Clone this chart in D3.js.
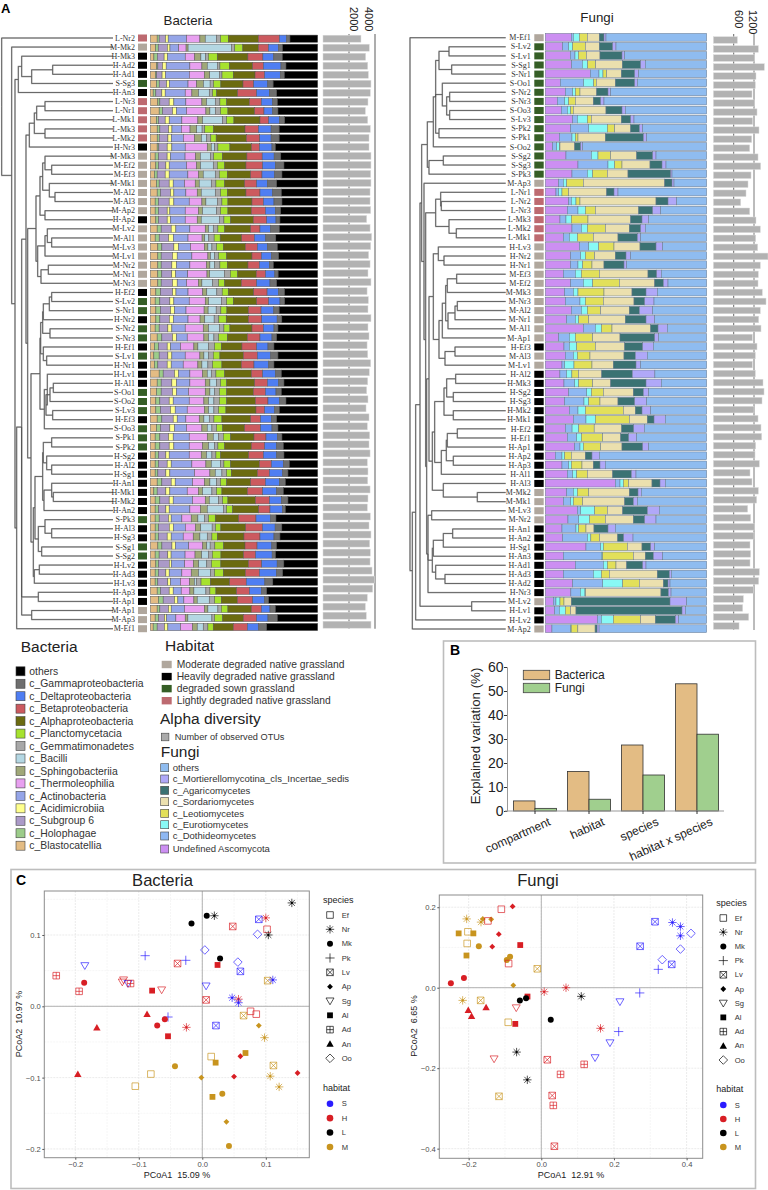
<!DOCTYPE html>
<html><head><meta charset="utf-8">
<script src="https://cdn.jsdelivr.net/npm/d3@7/dist/d3.min.js"></script>
<style>
html,body{margin:0;padding:0;background:#fff}
svg{display:block;font-family:"Liberation Sans",Arial,sans-serif}
</style></head><body><div id="chart"></div>
<script>
// ---------- DATA ----------
const bacteriaClasses = ["c_Blastocatellia","c_Holophagae","c_Subgroup 6","c_Acidimicrobiia","c_Actinobacteria","c_Thermoleophilia","c_Sphingobacteriia","c_Bacilli","c_Gemmatimonadetes","c_Planctomycetacia","c_Alphaproteobacteria","c_Betaproteobacteria","c_Deltaproteobacteria","c_Gammaproteobacteria","others"];
const bacteriaColors = ["#e3bc84","#9ccc8a","#ab9ac8","#ffff8c","#95a5e8","#e8a0f0","#a0a878","#b4d7e3","#a8a8a8","#a6e22e","#6b6b10","#cc5a5f","#4f7ef2","#6e6e6e","#000000"];
const fungiClasses = ["Undefined Ascomycota","c_Dothideomycetes","c_Eurotiomycetes","c_Leotiomycetes","c_Sordariomycetes","c_Agaricomycetes","c_Mortierellomycotina_cls_Incertae_sedis","others"];
const fungiColors = ["#cc8ff2","#8fb8f2","#88f9f5","#e2e05a","#ebe0ae","#3b7273","#b0a8f8","#8fbcf0"];
const habitatNames = {M:"Moderate degraded native grassland",H:"Heavily degraded native grassland",S:"degraded sown grassland",L:"Lightly degraded native grassland"};
const habitatColors = {M:"#b0a79d",H:"#000000",S:"#355e26",L:"#bd6a70"};
const fungiHabitatExceptions = ["H-Lv3","H-Nr2","H-Nr1"];

const bacteriaLabels = ["L-Nr2","M-Mk2","H-Mk3","H-Ad2","H-Ad1","S-Sg3","H-An3","L-Nr3","L-Nr1","L-Mk1","L-Mk3","L-Mk2","H-Nr3","M-Mk3","M-Ef2","M-Ef3","M-Mk1","M-Al2","M-Al3","M-Ap2","H-Ap2","M-Lv2","M-Al1","M-Lv3","M-Lv1","M-Nr2","M-Nr1","M-Nr3","H-Ef2","S-Lv2","S-Nr1","H-Nr2","S-Nr2","S-Nr3","H-Ef1","S-Lv1","H-Nr1","H-Lv1","H-Al1","S-Oo1","S-Oo2","S-Lv3","H-Ef3","S-Oo3","S-Pk1","S-Pk2","H-Sg2","H-Al2","H-Sg1","H-An1","H-Mk1","H-Mk2","H-An2","S-Pk3","H-Al3","H-Sg3","S-Sg1","S-Sg2","H-Lv2","H-Ad3","H-Lv3","H-Ap3","H-Ap1","M-Ap1","M-Ap3","M-Ef1"];
const bacteriaValues = [
[20,6,19,8,55,40,16,34,12,23,90,63,22,10,83],
[15,8,27,8,26,22,6,129,10,24,46,30,30,12,105],
[10,10,20,10,52,28,18,14,8,26,90,44,32,25,104],
[18,4,14,11,71,36,16,30,8,28,70,32,53,15,95],
[14,4,16,10,70,44,16,28,8,33,64,28,46,12,98],
[18,8,22,8,56,26,20,20,10,22,66,32,42,16,133],
[8,8,18,10,60,20,20,32,10,12,63,57,38,22,123],
[22,6,28,14,36,48,14,26,14,20,68,36,34,14,121],
[26,10,30,12,30,58,12,16,16,22,80,28,26,16,119],
[18,6,20,12,38,48,14,60,12,22,78,26,32,16,99],
[20,8,26,10,28,26,20,16,8,26,94,40,38,24,115],
[20,6,26,10,36,34,20,16,12,16,90,40,34,24,115],
[20,5,25,14,40,66,12,10,10,36,64,24,38,10,127],
[14,10,26,10,44,32,14,30,10,26,74,46,36,20,111],
[16,8,22,10,52,30,12,38,12,22,64,50,38,26,101],
[12,8,24,12,56,32,14,36,12,24,70,34,38,22,107],
[18,8,30,12,34,32,12,36,14,26,60,36,32,28,123],
[20,10,30,10,36,34,12,42,16,20,56,42,38,26,109],
[14,10,32,14,46,38,12,34,14,18,72,34,32,24,107],
[14,10,26,8,46,40,12,42,12,22,70,42,30,16,111],
[16,8,26,10,44,36,12,54,14,20,68,40,28,12,113],
[20,12,30,14,42,46,10,14,14,20,78,28,32,26,115],
[14,12,28,14,44,42,8,12,16,18,64,38,34,30,125],
[22,12,36,14,36,42,10,12,14,20,66,36,30,30,121],
[22,10,34,14,44,48,8,12,12,24,76,28,30,22,117],
[22,10,32,14,40,50,10,14,16,22,62,34,30,12,133],
[22,12,30,12,36,58,8,44,18,22,56,28,28,10,119],
[22,10,34,14,28,36,10,32,18,18,50,46,40,20,123],
[16,14,36,10,36,44,12,30,16,18,76,40,34,18,99],
[14,14,30,12,46,48,10,38,16,20,70,36,34,14,99],
[16,14,30,12,34,54,12,24,14,18,64,38,38,16,115],
[16,12,28,12,44,36,14,28,14,22,66,40,46,14,107],
[14,12,26,12,40,54,16,32,14,18,66,34,32,12,119],
[20,14,32,12,32,50,14,16,14,26,60,38,36,14,123],
[12,12,26,10,30,40,12,32,18,20,62,44,34,18,131],
[10,16,26,12,40,44,12,14,14,20,70,42,40,22,119],
[12,10,28,12,36,44,12,18,14,28,58,38,44,16,131],
[26,12,34,12,34,38,14,12,14,26,80,34,38,18,109],
[20,12,32,14,40,46,14,20,12,18,84,38,34,16,101],
[18,14,34,12,36,50,14,14,14,22,80,36,32,16,109],
[16,12,28,12,48,44,14,16,16,22,86,38,34,20,95],
[16,14,30,14,36,52,12,16,14,22,90,26,30,14,115],
[20,14,34,12,26,40,14,16,14,24,86,30,32,16,123],
[18,12,28,14,36,46,16,14,14,18,66,48,34,18,119],
[14,14,26,14,48,54,18,16,14,22,70,36,34,14,107],
[14,14,28,14,46,40,18,18,10,20,80,40,36,20,103],
[14,10,22,10,60,36,16,16,12,14,84,44,40,22,101],
[14,10,26,12,62,42,16,28,10,20,86,36,36,18,85],
[14,8,24,12,74,46,16,20,14,14,78,36,40,16,89],
[20,14,28,12,52,36,16,20,12,18,72,44,42,18,97],
[10,10,26,12,52,34,12,28,14,16,76,46,42,20,103],
[14,14,28,12,58,38,12,28,12,16,82,42,36,20,89],
[14,10,22,10,62,32,20,48,10,18,78,34,38,8,97],
[14,12,28,8,32,28,20,20,12,20,70,52,44,16,125],
[14,10,32,12,36,30,16,34,10,16,74,50,38,20,107],
[14,10,26,12,36,30,20,22,14,16,80,48,42,18,113],
[22,12,30,10,40,42,12,10,14,26,64,36,44,14,123],
[14,12,26,10,42,30,20,20,12,26,68,36,50,10,127],
[16,8,32,6,40,26,16,24,14,28,82,40,46,20,101],
[14,10,22,10,38,28,22,36,12,26,66,42,52,18,105],
[14,8,30,8,30,28,14,6,14,28,58,50,56,24,135],
[20,10,26,12,24,26,12,36,12,18,62,38,36,16,153],
[24,14,34,10,18,30,10,36,16,20,48,46,36,12,147],
[20,8,26,8,40,60,10,30,10,20,70,30,26,16,127],
[14,10,18,6,28,28,8,72,8,24,62,40,34,28,121],
[8,12,22,10,38,36,14,18,14,16,60,42,34,24,153]
];
const bacteriaOTUs = [2920,3560,3280,3440,3490,3690,3640,3460,3260,3440,3640,3540,3540,3690,3690,3670,3690,3620,3620,3670,3360,3620,3740,3670,3510,3620,3460,3690,3390,3490,3460,3690,3460,3540,3390,3440,3670,3560,3440,3360,3460,3310,3540,3410,3590,3540,3620,3410,3460,3440,3620,3460,3410,3640,3540,3690,3590,3640,3620,3770,3970,3820,3410,3260,3330,3690];

const fungiLabels = ["M-Ef1","S-Lv2","S-Lv1","S-Sg1","S-Nr1","S-Oo1","S-Nr2","S-Nr3","S-Oo3","S-Lv3","S-Pk2","S-Pk1","S-Oo2","S-Sg2","S-Sg3","S-Pk3","M-Ap3","L-Nr1","L-Nr2","L-Nr3","L-Mk3","L-Mk2","L-Mk1","H-Lv3","H-Nr2","H-Nr1","M-Ef3","M-Ef2","M-Mk3","M-Nr3","M-Al2","M-Nr1","M-Al1","M-Ap1","H-Ef3","M-Al3","M-Lv1","H-Al2","H-Mk3","H-Sg2","H-Sg3","H-Mk2","H-Mk1","H-Ef2","H-Ef1","H-Ap1","H-Ap2","H-Ap3","H-Al1","H-Al3","M-Mk2","M-Mk1","M-Lv3","M-Nr2","H-An1","H-An2","H-Sg1","H-An3","H-Ad1","H-Ad3","H-Ad2","H-Nr3","M-Lv2","H-Lv1","H-Lv2","M-Ap2"];
const fungiValues = [
[78,6,18,24,36,14,6,302],
[52,18,12,38,42,40,10,272],
[75,14,10,24,41,66,8,246],
[79,32,16,24,80,55,14,184],
[135,26,12,11,44,40,12,204],
[45,70,30,8,57,58,8,208],
[60,22,8,14,50,34,8,288],
[36,22,12,20,54,22,10,308],
[48,18,10,8,98,48,10,244],
[82,14,30,12,90,28,10,218],
[76,54,56,22,48,26,10,192],
[42,38,10,8,82,114,10,180],
[22,12,8,2,44,18,6,372],
[62,76,20,38,78,48,10,152],
[98,90,20,22,84,36,12,122],
[80,46,16,44,62,128,4,104],
[40,14,10,50,244,22,6,98],
[32,8,10,20,114,22,12,266],
[70,8,14,12,228,36,26,90],
[66,32,22,30,130,42,24,138],
[44,18,16,50,128,34,20,174],
[80,28,18,54,72,34,14,184],
[54,18,24,48,74,58,10,198],
[102,28,30,46,78,48,20,132],
[76,30,14,28,62,32,14,228],
[76,22,14,28,36,60,8,240],
[54,36,18,54,146,26,14,136],
[76,38,28,80,106,26,14,116],
[58,26,14,78,84,42,34,148],
[60,44,16,54,92,32,28,158],
[78,30,18,40,86,30,40,162],
[64,26,10,30,110,62,26,156],
[114,36,18,32,116,22,28,118],
[40,32,18,52,82,104,12,144],
[56,16,22,56,88,54,32,160],
[60,24,12,38,102,34,36,178],
[50,8,28,54,64,68,14,198],
[44,20,16,20,70,92,68,156],
[56,32,12,42,54,106,46,136],
[70,54,14,36,90,30,16,174],
[58,58,14,34,54,50,36,180],
[72,26,22,114,36,20,26,168],
[84,38,28,102,54,20,34,124],
[60,20,20,46,82,36,32,186],
[66,28,14,64,54,24,24,210],
[88,16,10,52,64,62,18,174],
[30,20,8,20,42,20,22,322],
[50,20,8,32,34,20,16,304],
[66,16,12,32,76,56,14,212],
[210,14,10,16,70,24,16,124],
[64,20,12,34,122,26,10,196],
[54,22,8,28,126,26,12,208],
[96,10,42,38,46,74,36,142],
[68,32,32,48,84,34,34,152],
[50,42,8,22,24,42,22,274],
[52,74,10,26,54,18,28,220],
[122,44,8,72,44,26,12,156],
[54,114,4,92,36,24,28,132],
[90,84,12,26,32,48,10,182],
[54,90,24,24,144,36,6,106],
[82,90,60,50,72,14,6,110],
[76,28,14,2,224,22,8,106],
[24,8,12,12,22,296,50,60],
[28,14,18,16,16,318,10,64],
[156,12,36,82,44,60,10,84],
[20,56,2,20,52,6,6,324]
];
const fungiOTUs = [708,1328,1210,1505,1259,1240,1141,1210,1289,1161,1348,1132,1073,1319,1397,1112,1023,964,807,1073,1259,1387,1250,1309,1614,1387,1328,1319,1446,1555,1387,1338,1407,1151,1289,1240,1151,1240,1466,1496,1437,1200,1319,1407,1427,1250,1230,1358,1082,1141,1328,1279,1013,1102,1220,1200,1082,1102,1082,1358,1338,1181,886,866,1043,758];

// dendrograms: [distance from root, child, child, ...]
const bacteriaTree = [5,"L-Nr2",[35,"M-Mk2",[45,
  [55,[65,"H-Mk3",[95,[158,"H-Ad2","H-Ad1"],"S-Sg3"]],"H-An3"],
  [50,[65,
    [78,
      [88,[103,[110,[135,"L-Nr3","L-Nr1"],"L-Mk1"],[135,"L-Mk3","L-Mk2"]],"H-Nr3"],
      [83,
        [108,
          [120,[128,[135,"M-Mk3",[155,"M-Ef2","M-Ef3"]],[148,"M-Mk1",[165,"M-Al2","M-Al3"]]],[135,"M-Ap2","H-Ap2"]],
          [113,[135,[142,"M-Lv2",[155,"M-Al1","M-Lv3"]],"M-Lv1"],[123,[145,"M-Nr2","M-Nr1"],"M-Nr3"]]],
        [93,
          [120,
            [122,[128,[130,[148,[155,"H-Ef2","S-Lv2"],"S-Nr1"],"H-Nr2"],[150,"S-Nr2","S-Nr3"]],[130,"H-Ef1",[140,"S-Lv1","H-Nr1"]]],
            [133,[142,"H-Lv1",[138,[150,[160,"H-Al1","S-Oo1"],"S-Oo2"],[158,"S-Lv3","H-Ef3"]]],"S-Oo3"]],
          [100,
            [105,
              [128,[130,[155,"S-Pk1","S-Pk2"],[140,"H-Sg2",[155,"H-Al2","H-Sg1"]]],[132,[155,"H-An1",[160,"H-Mk1","H-Mk2"]],"H-An2"]],
              [115,[135,"S-Pk3",[155,"H-Al3","H-Sg3"]],[125,"S-Sg1","S-Sg2"]]],
            [103,[118,"H-Lv2","H-Ad3"],"H-Lv3"]]]]],
    [115,"H-Ap3","H-Ap1"],[95,"M-Ap1","M-Ap3"]],"M-Ef1"]]]];

const fungiTree = [78,"M-Ef1",[85,[95,[108,[113,
  [130,
    [148,[155,[165,[195,"S-Lv2","S-Lv1"],[203,"S-Sg1","S-Nr1"]],[175,"S-Oo1",[188,[197,"S-Nr2","S-Nr3"],[197,"S-Oo3","S-Lv3"]]],[165,"S-Pk2","S-Pk1"]],"S-Oo2"],
    [135,[178,"S-Sg2","S-Sg3"],"S-Pk3"]],
  [120,"M-Ap3",[125,
    [155,[170,"L-Nr1",[172,"L-Nr2","L-Nr3"]],[195,"L-Mk3",[217,"L-Mk2","L-Mk1"]]],
    [128,[135,
      [148,[163,"H-Lv3",[180,"H-Nr2","H-Nr1"]],
        [165,
          [175,[185,[190,[218,"M-Ef3","M-Ef2"],"M-Mk3"],[192,[213,[220,"M-Nr3","M-Al2"],"M-Nr1"],"M-Al1"]],"M-Ap1"],
          [183,[213,"H-Ef3","M-Al3"],"M-Lv1"]]],
      [145,
        [152,[180,[188,[215,"H-Al2","H-Mk3"],[208,"H-Sg2","H-Sg3"]],[208,"H-Mk2","H-Mk1"]],
             [172,[187,[190,[220,"H-Ef2","H-Ef1"],"H-Ap1"],[208,"H-Ap2","H-Ap3"]],"H-Al1"]],
        [178,"H-Al3",[280,"M-Mk2","M-Mk1"]]]],
      [132,[143,"M-Lv3","M-Nr2"],
        [145,[148,[178,[206,"H-An1","H-An2"],"H-Sg1"],"H-An3"],[155,"H-Ad1",[183,"H-Ad3","H-Ad2"]]],
        "H-Nr3"]]]]],
  [263,"M-Lv2","H-Lv1"]],"H-Lv2"],"M-Ap2"]];

// Panel B
const variationCats = ["compartment","habitat","species","habitat x species"];
const variationBacteria = [4.2,16.5,27.5,53];
const variationFungi = [1.1,4.9,15,32];
const variationLegend = ["Bacterica","Fungi"];
const variationColors = ["#e3bc84","#a0cf8e"];

// Panel C  [species, habitat, PCoA1, PCoA2]
const speciesCodes = ["Ef","Nr","Mk","Pk","Lv","Ap","Sg","Al","Ad","An","Oo"];
const pcoaHabitats = ["S","H","L","M"];
const pcoaColors = {S:"#2a1cff",H:"#d81e24",L:"#000000",M:"#c8941e"};
const pcoaBacteria = [
["Nr","L",.141,.145],["Mk","L",.007,.127],["Nr","L",.019,.127],["Mk","L",-.017,.116],["Lv","H",.048,.112],["Lv","S",.089,.122],["Nr","H",.100,.124],["Ef","H",.102,.108],["Oo","S",.087,.101],["Nr","L",.104,.100],
["Pk","S",-.090,.071],["Pk","S",-.026,.0645],["Lv","H",-.039,.060],["Oo","S",.004,.079],["Mk","L",.028,.067],["Al","H",.024,.058],["Oo","S",.056,.062],["Lv","S",.060,.049],["Sg","S",-.185,.057],["Ad","H",-.230,.043],["Mk","H",-.186,.033],["Ad","H",-.194,.021],["Sg","H",-.124,.037],["Sg","H",-.126,.034],["Sg","S",-.117,.032],["Ad","H",-.113,.032],["Al","H",-.079,.022],["Sg","H",-.064,.023],["Lv","M",.103,.036],["Nr","S",.111,.037],["Sg","S",.006,.0285],["Lv","H",.006,.009],["Nr","S",.047,.012],["Nr","H",.057,.010],["Nr","S",.057,.005],
["Pk","S",-.054,-.015],["Mk","H",-.059,-.018],["Mk","H",-.071,-.027],["An","H",-.087,-.011],["An","H",-.166,-.030],["Nr","H",-.025,-.0295],["Lv","S",.0215,-.027],["Al","H",-.054,-.042],["Ef","H",.076,-.007],["Ef","H",.085,-.011],["Lv","M",.065,-.013],["Ap","M",.089,-.027],["Nr","M",.098,-.044],["Ap","H",.060,-.070],["Al","M",.068,-.0655],["Ef","M",.014,-.0705],["Al","M",.021,-.079],["Mk","M",-.043,-.084],["Lv","M",.112,-.083],["Nr","M",.107,-.098],["Nr","M",.121,-.113],["Ap","H",.150,-.0935],["Ap","H",.050,-.0985],["Ap","M",-.0015,-.100],["Ef","M",-.081,-.095],["Ef","M",-.1055,-.112],["An","H",-.196,-.095],["Mk","M",.0315,-.1225],["Al","M",.016,-.127],["Ap","M",.038,-.162],["Mk","M",.042,-.196]
];
const pcoaFungi = [
["Ap","H",-.079,.202],["Ef","H",-.110,.195],["Nr","M",-.2055,.171],["Ap","M",-.161,.171],["Ap","M",-.138,.170],["Nr","M",-.166,.163],["Ef","H",-.147,.166],["Ef","M",-.202,.139],["Al","M",-.2275,.135],["Al","M",-.187,.135],["Ap","H",-.117,.133],
["Lv","S",.313,.164],["Nr","S",.361,.162],["Nr","S",.383,.152],["Oo","S",.412,.135],["Nr","S",.383,.129],
["Ef","M",-.204,.110],["Al","M",-.206,.080],["Ap","H",-.135,.102],["Mk","M",-.172,.103],["Al","H",-.058,.106],["Lv","S",.272,.103],["Oo","S",.383,.096],["Oo","S",.333,.0696],["Lv","S",.359,.058],["Pk","S",.322,.0456],["Mk","M",-.086,.077],["Mk","M",-.095,.069],["Ef","H",-.090,.060],["Lv","M",-.011,.047],
["Mk","H",-.249,.011],["Mk","H",-.213,.024],["Ap","M",-.077,.006],["Nr","M",-.2165,-.0315],["Lv","M",-.167,-.0315],["An","H",-.201,-.0555],["An","H",-.152,-.049],["An","H",-.192,-.0704],["Nr","H",.008,-.010],["Nr","H",.068,0],["Nr","L",.110,-.0215],["Pk","S",.271,-.013],["Sg","S",.2165,-.035],
["Al","H",-.038,-.022],["Mk","L",-.059,-.032],["Mk","L",-.042,-.026],["Sg","H",-.069,-.05],["Mk","L",.026,-.0795],["Ef","M",-.091,-.086],["Al","H",-.0716,-.090],["Nr","H",.163,-.101],["Pk","S",.213,-.109],["Sg","S",.189,-.137],["Sg","S",.148,-.174],["Sg","H",-.130,-.177],["Nr","L",-.068,-.160],["Nr","L",-.0385,-.229],["Lv","H",.0165,-.179],["Ad","H",.118,-.1905],["Ad","H",.053,-.2154],["Lv","H",.030,-.268],["Ad","H",.033,-.2925],["Lv","M",-.1165,-.270],["Lv","H",.036,-.394]
];

// ---------- DRAW ----------
const W=768,H=1190;
const svg=d3.select("#chart").append("svg").attr("width",W).attr("height",H).attr("viewBox",`0 0 ${W} ${H}`);
svg.append("rect").attr("width",W).attr("height",H).attr("fill","#fff");
const SERIF='"Liberation Serif",serif';
const linPos=(labels,a,b)=>d3.scalePoint().domain(d3.range(labels.length)).range([a,b]);

function drawStacked(labels,values,colors,x0,x1,yFirst,yLast,barH,stroke){
  const y=linPos(labels,yFirst,yLast);
  const x=d3.scaleLinear().domain([0,1]).range([x0,x1]);
  const keys=d3.range(colors.length);
  const series=d3.stack().keys(keys).value((d,k)=>d[k]).offset(d3.stackOffsetExpand)(values);
  svg.append("g").selectAll("g").data(series).join("g").attr("fill",(d,i)=>colors[i])
    .selectAll("rect").data(d=>d).join("rect")
    .attr("x",d=>x(d[0])).attr("width",d=>x(d[1])-x(d[0]))
    .attr("y",(d,i)=>y(i)-barH/2).attr("height",barH)
    .attr("stroke",stroke).attr("stroke-width",.5);
}
function drawLabels(labels,xRight,swX,swW,yFirst,yLast,habitatOf){
  const y=linPos(labels,yFirst,yLast);
  const g=svg.append("g");
  g.selectAll("text").data(labels).join("text")
    .attr("x",xRight).attr("y",(d,i)=>y(i)).attr("dy","0.33em")
    .attr("text-anchor","end").attr("font-family",SERIF).attr("font-size",8).attr("fill","#333").text(d=>d);
  g.selectAll("rect").data(labels).join("rect")
    .attr("x",swX).attr("width",swW).attr("y",(d,i)=>y(i)-3.5).attr("height",7)
    .attr("fill",d=>habitatColors[habitatOf(d)]);
}
function drawTree(tree,labels,x0,x1,leafX,yFirst,yLast){
  const y=linPos(labels,yFirst,yLast);
  const x=d3.scaleLinear().domain([0,1000]).range([x0,x1]);
  const root=d3.hierarchy(tree,d=>Array.isArray(d)?d.slice(1):null);
  root.eachAfter(n=>{
    if(n.children){n.px=x(n.data[0]);n.py=(n.children[0].py+n.children[n.children.length-1].py)/2;}
    else{n.px=leafX;n.py=y(labels.indexOf(n.data));}
  });
  const p=d3.path();
  root.links().forEach(l=>{p.moveTo(l.source.px,l.source.py);p.lineTo(l.source.px,l.target.py);p.lineTo(l.target.px,l.target.py);});
  const g=svg.append("g").attr("fill","none");
  g.append("path").attr("d",p.toString()).attr("stroke","#bbb").attr("stroke-width",1.5);
  g.append("path").attr("d",p.toString()).attr("stroke","#444").attr("stroke-width",.7);
}
function drawOTU(labels,values,ticks,x0,pxPerUnit,yFirst,yLast,barH,yTop,tickStyles,labelDx,labelY){
  const y=linPos(labels,yFirst,yLast);
  const x=d3.scaleLinear().domain([0,ticks[1]]).range([x0,x0+ticks[1]*pxPerUnit]);
  const g=svg.append("g");
  ticks.forEach((t,i)=>{
    g.append("line").attr("x1",x(t)).attr("x2",x(t)).attr("y1",yTop).attr("y2",yLast+4)
      .attr("stroke",tickStyles[i].c).attr("stroke-width",tickStyles[i].w);
    g.append("text").attr("transform",`translate(${x(t)+labelDx[i]},${labelY}) rotate(90)`)
      .attr("font-size",11).attr("fill","#222").text(t);
  });
  g.selectAll("rect").data(values).join("rect")
    .attr("x",x(0)).attr("y",(d,i)=>y(i)-barH/2).attr("height",barH).attr("width",d=>x(d)-x(0))
    .attr("fill","#b2b2b2").attr("stroke","#dcdcdc").attr("stroke-width",.5);
}

// Panel A
svg.append("text").attr("x",1).attr("y",12.5).attr("font-size",13).attr("font-weight","bold").text("A");
svg.append("text").attr("x",188).attr("y",25).attr("text-anchor","middle").attr("font-size",13.3).attr("fill","#222").text("Bacteria");
svg.append("text").attr("x",597).attr("y",22).attr("text-anchor","middle").attr("font-size",13.3).attr("fill","#222").text("Fungi");

drawTree(bacteriaTree,bacteriaLabels,0,333.3,113,38,628.7);
drawLabels(bacteriaLabels,135,138,9,38,628.7,d=>d[0]);
drawStacked(bacteriaLabels,bacteriaValues,bacteriaColors,150.5,317.7,38.7,627,7.2,"#555");
drawOTU(bacteriaLabels,bacteriaOTUs,[2000,4000],323,0.013,38.7,624.7,7,34,[{c:"#222",w:.7},{c:"#999",w:1.6}],[1,-10],7);

drawTree(fungiTree,fungiLabels,384,717.3,505.7,37.7,629);
drawLabels(fungiLabels,530.7,534.3,9.4,37.7,629,d=>fungiHabitatExceptions.includes(d)?"M":d[0]);
drawStacked(fungiLabels,fungiValues,fungiColors,545.3,706.7,37.3,628.7,7.8,"#67768a");
drawOTU(fungiLabels,fungiOTUs,[600,1200],713.4,20.3/600,40,626,6.6,34,[{c:"#222",w:.7},{c:"#555",w:.8}],[1.5,-5],10);

// Legends
function title(t,x,y){svg.append("text").attr("x",x).attr("y",y).attr("font-size",15.5).attr("fill","#222").text(t);}
function legendCol(names,colors,swX,swS,txtX,ys,fs){
  const g=svg.append("g");
  names.forEach((n,i)=>{
    g.append("rect").attr("x",swX).attr("y",ys[i]-swS/2).attr("width",swS).attr("height",swS).attr("fill",colors[i]).attr("stroke","#444").attr("stroke-width",.6);
    g.append("text").attr("x",txtX).attr("y",ys[i]).attr("dy","0.35em").attr("font-size",fs).attr("fill","#333").text(n);
  });
}
title("Bacteria",20.7,651.5);
{
 const names=bacteriaClasses.slice().reverse(), cols=bacteriaColors.slice().reverse();
 const y=d3.scaleLinear().domain([0,14]).range([671.3,845.7]);
 legendCol(names,cols,16,9,29.3,d3.range(15).map(y),10.4);
}
title("Habitat",165,651);
{
 const keys=["M","H","S","L"];
 const y=d3.scaleLinear().domain([0,3]).range([664.5,700.7]);
 const g=svg.append("g");
 keys.forEach((k,i)=>{
   g.append("rect").attr("x",161.7).attr("y",y(i)-3.7).attr("width",10).attr("height",7.4).attr("fill",habitatColors[k]);
   g.append("text").attr("x",176.7).attr("y",y(i)).attr("dy","0.35em").attr("font-size",10.3).attr("fill","#333").text(habitatNames[k]);
 });
}
title("Alpha diversity",160,724);
legendCol(["Number of observed OTUs"],["#ababab"],161.3,7.6,174.7,[737],9.2);
title("Fungi",160.7,756.7);
{
 const names=fungiClasses.slice().reverse(), cols=fungiColors.slice().reverse();
 const ys=[767.7,779,790.3,801.7,813.3,824.7,836,849];
 legendCol(names,cols,160.7,8,172.7,ys,9.5);
}

// Panel B
svg.append("rect").attr("x",443.5).attr("y",641).attr("width",312).attr("height",222).attr("fill","none").attr("stroke","#bdbdbd").attr("stroke-width",1.6);
svg.append("text").attr("x",450).attr("y",655).attr("font-size",14).attr("font-weight","bold").text("B");
{
 const x=d3.scaleBand().domain(variationCats).range([508,724]).paddingInner(.2).paddingOuter(.1);
 const y=d3.scaleLinear().domain([0,60]).range([811,667]);
 const g=svg.append("g");
 [variationBacteria,variationFungi].forEach((vals,k)=>{
   g.append("g").selectAll("rect").data(vals).join("rect")
    .attr("x",(d,i)=>x(variationCats[i])+k*x.bandwidth()/2).attr("width",x.bandwidth()/2)
    .attr("y",d=>y(d)).attr("height",d=>y(0)-y(d))
    .attr("fill",variationColors[k]).attr("stroke","#333").attr("stroke-width",.8);
 });
 const ax=g.append("g").attr("transform","translate(507,0)").call(d3.axisLeft(y).tickValues([0,10,20,30,40,50,60]).tickSize(3).tickPadding(0.5));
 ax.select(".domain").attr("stroke","#999");
 ax.selectAll(".tick line").attr("stroke","#333");
 ax.selectAll("text").attr("font-size",14).attr("font-family",'"Liberation Sans"').attr("fill","#222");
 g.append("line").attr("x1",505).attr("x2",724).attr("y1",811).attr("y2",811).attr("stroke","#999").attr("stroke-width",1);
 const bx=g.append("g").attr("transform","translate(0,811)").call(d3.axisBottom(x).tickSize(3).tickFormat(""));
 bx.select(".domain").remove();
 bx.selectAll(".tick line").attr("stroke","#333");
 g.selectAll(".catlab").data(variationCats).join("text").attr("class","catlab")
   .attr("transform",d=>`translate(${x(d)+x.bandwidth()/2+13},817) rotate(-24)`)
   .attr("text-anchor","end").attr("dy","0.7em").attr("font-size",12).attr("fill","#222").text(d=>d);
 g.append("text").attr("transform","translate(479.5,736) rotate(-90)").attr("text-anchor","middle").attr("font-size",13.3).attr("fill","#222").text("Explained variation (%)");
 const ly=[675,688];
 variationLegend.forEach((n,i)=>{
  g.append("rect").attr("x",523.3).attr("y",ly[i]-4.7).attr("width",26.4).attr("height",9.4).attr("fill",variationColors[i]).attr("stroke","#444").attr("stroke-width",.8);
  g.append("text").attr("x",554.7).attr("y",ly[i]).attr("dy","0.35em").attr("font-size",12).attr("fill","#222").text(n);
 });
}

// Panel C
svg.append("rect").attr("x",11).attr("y",869.5).attr("width",744.5).attr("height",319).attr("fill","none").attr("stroke","#bdbdbd").attr("stroke-width",1.6);
svg.append("text").attr("x",16).attr("y",885).attr("font-size",14).attr("font-weight","bold").text("C");

const star=(p,r)=>{[[1,0],[0,1],[.71,.71],[.71,-.71]].forEach(([a,b])=>{p.moveTo(-a*r,-b*r);p.lineTo(a*r,b*r);});};
function symbolPath(sp){
  const p=d3.path(); const s=3.3,r=4.6;
  if(sp==="Nr"){star(p,4.2);}
  else if(sp==="Pk"){p.moveTo(-r,0);p.lineTo(r,0);p.moveTo(0,-r);p.lineTo(0,r);}
  else if(sp==="Ef"||sp==="Lv"||sp==="Ad"){
    p.rect(-s,-s,2*s,2*s);
    if(sp==="Lv"){p.moveTo(-s,-s);p.lineTo(s,s);p.moveTo(-s,s);p.lineTo(s,-s);}
    if(sp==="Ad"){p.moveTo(-s,0);p.lineTo(s,0);p.moveTo(0,-s);p.lineTo(0,s);}
  }
  else if(sp==="Sg"){p.moveTo(-4,-3);p.lineTo(4,-3);p.lineTo(0,3.8);p.closePath();}
  else if(sp==="Oo"){p.moveTo(0,-4.3);p.lineTo(4.3,0);p.lineTo(0,4.3);p.lineTo(-4.3,0);p.closePath();}
  else if(sp==="Ap"){p.moveTo(0,-2.9);p.lineTo(2.9,0);p.lineTo(0,2.9);p.lineTo(-2.9,0);p.closePath();}
  else if(sp==="Al"){p.rect(-2.9,-2.9,5.8,5.8);}
  else if(sp==="An"){p.moveTo(0,-3.6);p.lineTo(3.7,2.9);p.lineTo(-3.7,2.9);p.closePath();}
  else if(sp==="Mk"){p.arc(0,0,3,0,2*Math.PI);}
  return p.toString();
}
const filled=new Set(["Mk","Ap","Al","An"]);
function drawMark(g,sp,color,x,y){
  const e=g.append("path").attr("d",symbolPath(sp)).attr("transform",`translate(${x},${y})`);
  if(filled.has(sp)) e.attr("fill",color);
  else e.attr("fill","none").attr("stroke",color).attr("stroke-width",.85).attr("stroke-opacity",.8);
  if(sp==="Nr") g.append("circle").attr("cx",x).attr("cy",y).attr("r",1.1).attr("fill",color);
}
function drawPcoa(o){
  const {px0,px1,py0,py1,xd,yd,xt,yt,xmin,ymin,points,xlab,ylab,xlabX,ylabX,ylabY,titleT,titleX,legSym,legTxt,legTitle,spYs,habYs,spTitleY,habTitleY}=o;
  const x=d3.scaleLinear().domain(xd).range([px0,px1]);
  const y=d3.scaleLinear().domain(yd).range([py1,py0]);
  const g=svg.append("g");
  svg.append("text").attr("x",titleX).attr("y",886).attr("text-anchor","middle").attr("font-size",16.6).attr("fill","#222").text(titleT);
  xmin.forEach(v=>g.append("line").attr("x1",x(v)).attr("x2",x(v)).attr("y1",py0).attr("y2",py1).attr("stroke","#f0f0f0").attr("stroke-width",.6).attr("stroke-dasharray","2 1"));
  ymin.forEach(v=>g.append("line").attr("y1",y(v)).attr("y2",y(v)).attr("x1",px0).attr("x2",px1).attr("stroke","#f0f0f0").attr("stroke-width",.6).attr("stroke-dasharray","2 1"));
  xt.forEach(v=>g.append("line").attr("x1",x(v)).attr("x2",x(v)).attr("y1",py0).attr("y2",py1).attr("stroke","#e6e6e6").attr("stroke-width",.8).attr("stroke-dasharray","2 1"));
  yt.forEach(v=>g.append("line").attr("y1",y(v)).attr("y2",y(v)).attr("x1",px0).attr("x2",px1).attr("stroke","#e6e6e6").attr("stroke-width",.8).attr("stroke-dasharray","2 1"));
  g.append("line").attr("x1",x(0)).attr("x2",x(0)).attr("y1",py0).attr("y2",py1).attr("stroke","#b3b3b3").attr("stroke-width",1);
  g.append("line").attr("y1",y(0)).attr("y2",y(0)).attr("x1",px0).attr("x2",px1).attr("stroke","#b3b3b3").attr("stroke-width",1);
  g.append("rect").attr("x",px0).attr("y",py0).attr("width",px1-px0).attr("height",py1-py0).attr("fill","none").attr("stroke","#8c8c8c").attr("stroke-width",1);
  const fmt=v=>(v<0?"\u2212":"")+Math.abs(v).toFixed(1);
  const ax=g.append("g").attr("transform",`translate(0,${py1})`).call(d3.axisBottom(x).tickValues(xt).tickSize(2).tickPadding(1.5).tickFormat(fmt));
  const ay=g.append("g").attr("transform",`translate(${px0},0)`).call(d3.axisLeft(y).tickValues(yt).tickSize(2).tickPadding(1.5).tickFormat(fmt));
  [ax,ay].forEach(a=>{a.select(".domain").remove();a.selectAll("line").attr("stroke","#555");a.selectAll("text").attr("font-size",7.6).attr("font-family",'"Liberation Sans"').attr("fill","#4d4d4d");});
  g.append("text").attr("x",xlabX).attr("y",1175).attr("dy","0.35em").attr("text-anchor","middle").attr("font-size",9).attr("fill","#222").style("white-space","pre").text(xlab);
  g.append("text").attr("transform",`translate(${ylabX},${ylabY}) rotate(-90)`).attr("dy","0.35em").attr("text-anchor","middle").attr("font-size",9).attr("fill","#222").style("white-space","pre").text(ylab);
  const pg=g.append("g");
  points.forEach(d=>drawMark(pg,d[0],pcoaColors[d[1]],x(d[2]),y(d[3])));
  const lg=svg.append("g");
  lg.append("text").attr("x",legTitle).attr("y",spTitleY).attr("dy","0.35em").attr("font-size",9).attr("fill","#222").text("species");
  speciesCodes.forEach((s,i)=>{
    drawMark(lg,s,"#000",legSym,spYs(i));
    lg.append("text").attr("x",legTxt).attr("y",spYs(i)).attr("dy","0.35em").attr("font-size",7.6).attr("fill","#333").text(s);
  });
  lg.append("text").attr("x",legTitle).attr("y",habTitleY).attr("dy","0.35em").attr("font-size",9).attr("fill","#222").text("habitat");
  pcoaHabitats.forEach((h,i)=>{
    lg.append("circle").attr("cx",legSym).attr("cy",habYs(i)).attr("r",3.3).attr("fill",pcoaColors[h]);
    lg.append("text").attr("x",legTxt).attr("y",habYs(i)).attr("dy","0.35em").attr("font-size",7.6).attr("fill","#333").text(h);
  });
}
drawPcoa({px0:44.3,px1:309.3,py0:891,py1:1157.7,xd:[-.2488,.1685],yd:[-.2123,.1617],
  xt:[-.2,-.1,0,.1],yt:[-.2,-.1,0,.1],xmin:[-.15,-.05,.05,.15],ymin:[-.15,-.05,.05,.15],points:pcoaBacteria,
  xlab:"PCoA1  15.09 %",ylab:"PCoA2  10.97 %",xlabX:177,ylabX:19,ylabY:1024,titleT:"Bacteria",titleX:162.5,
  legSym:330,legTxt:341.7,legTitle:323,spTitleY:900,habTitleY:1088,
  spYs:d3.scaleLinear().domain([0,10]).range([915,1058.3]),habYs:d3.scaleLinear().domain([0,3]).range([1103.7,1147])});
drawPcoa({px0:439.3,px1:702.7,py0:895,py1:1158.3,xd:[-.2808,.4443],yd:[-.424,.2304],
  xt:[-.2,0,.2,.4],yt:[-.4,-.2,0,.2],xmin:[-.1,.1,.3],ymin:[-.3,-.1,.1],points:pcoaFungi,
  xlab:"PCoA1  12.91 %",ylab:"PCoA2  6.65 %",xlabX:571,ylabX:414,ylabY:1026,titleT:"Fungi",titleX:538,
  legSym:723.3,legTxt:734.7,legTitle:716.3,spTitleY:903,habTitleY:1089.3,
  spYs:d3.scaleLinear().domain([0,10]).range([918,1060]),habYs:d3.scaleLinear().domain([0,3]).range([1105,1147])});
</script></body></html>
